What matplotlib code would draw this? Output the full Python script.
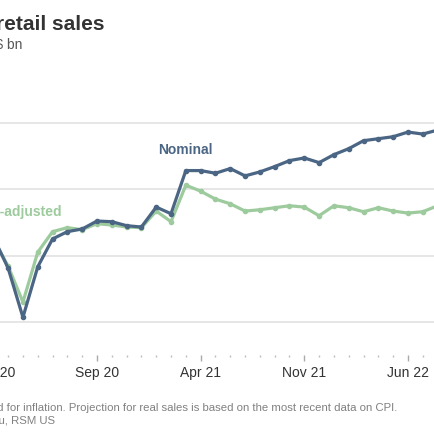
import numpy as np
import matplotlib
matplotlib.use("Agg")
import matplotlib.pyplot as plt
from matplotlib.ticker import FixedLocator, MultipleLocator

plt.rcParams['font.family'] = ['Liberation Sans', 'DejaVu Sans']

# monthly data, Feb 2020 .. Aug 2022 ($ bn)
months = ['Feb 20', 'Mar 20', 'Apr 20', 'May 20', 'Jun 20', 'Jul 20', 'Aug 20', 'Sep 20',
          'Oct 20', 'Nov 20', 'Dec 20', 'Jan 21', 'Feb 21', 'Mar 21', 'Apr 21', 'May 21',
          'Jun 21', 'Jul 21', 'Aug 21', 'Sep 21', 'Oct 21', 'Nov 21', 'Dec 21', 'Jan 22',
          'Feb 22', 'Mar 22', 'Apr 22', 'May 22', 'Jun 22', 'Jul 22', 'Aug 22']
nominal = [528, 481, 407, 483, 525, 536, 540, 552, 551, 545, 543, 573, 563, 628, 628, 624,
           631, 620, 626, 634, 643, 647, 640, 652, 661, 673, 676, 679, 686, 683, 689]
real = [525, 484, 430, 505, 536, 542, 539, 548, 546, 543, 542, 567, 551, 606, 597, 585,
        578, 567, 569, 572, 575, 573, 560, 575, 572, 566, 572, 567, 564, 566, 575]
tick_labels = ['Feb 20', 'Sep 20', 'Apr 21', 'Nov 21', 'Jun 22']

navy = '#4b6684'
green = '#9dcb9d'

W = H = 435.0
fig = plt.figure(figsize=(4.35, 4.35), dpi=100)
fig.patch.set_facecolor('white')

# axes extends past the left edge (the picture is a crop)
left_px, right_px, top_px, bot_px = -60, 470, 70, 356
ax = fig.add_axes([left_px / W, (H - bot_px) / H, (right_px - left_px) / W, (bot_px - top_px) / H])

x = np.arange(len(months))
ax.plot(x, real, color=green, lw=2.3, marker='o', ms=3.0, zorder=3)
ax.plot(x, nominal, color=navy, lw=2.3, marker='o', ms=3.0, zorder=4)

ax.set_xlim(-3.6, 32.19)
ax.set_ylim(350.2, 781)
ax.set_yticks([400, 500, 600, 700])
ax.grid(axis='y', color='#e6e6e6', lw=1.4)
ax.set_axisbelow(True)
for s in ax.spines.values():
    s.set_visible(False)

ax.xaxis.set_major_locator(FixedLocator([0, 7, 14, 21, 28]))
ax.set_xticklabels(tick_labels)
ax.xaxis.set_minor_locator(MultipleLocator(1))
ax.tick_params(axis='x', which='major', length=4, width=1, color='#aaaaaa',
               labelsize=10, labelcolor='#333333', pad=3)
ax.tick_params(axis='x', which='minor', length=1.5, width=1, color='#bbbbbb')
ax.tick_params(axis='y', length=0, labelsize=10, labelcolor='#555555')

ax.text(11.1, 661, 'Nominal', color=navy, fontsize=10, fontweight='bold',
        ha='left', va='center')
ax.text(4.64, 567, 'Inflation-adjusted', color=green, fontsize=10, fontweight='bold',
        ha='right', va='center')

fig.text(105 / W, 1 - 25 / H, 'Nominal vs. real retail sales', fontsize=15,
         fontweight='bold', color='#333333', ha='right', va='center')
fig.text(22 / W, 1 - 45 / H, 'Monthly, \\$ bn', fontsize=10, color='#555555',
         ha='right', va='center')
fig.text(397 / W, 1 - 408 / H,
         'Note: Real sales are adjusted for inflation. Projection for real sales is based on the most recent data on CPI.',
         fontsize=8.2, color='#808080', ha='right', va='center')
fig.text(55 / W, 1 - 421 / H, 'Source: Census Bureau, RSM US', fontsize=8.2,
         color='#808080', ha='right', va='center')

fig.savefig('out.png', dpi=100, facecolor='white')
